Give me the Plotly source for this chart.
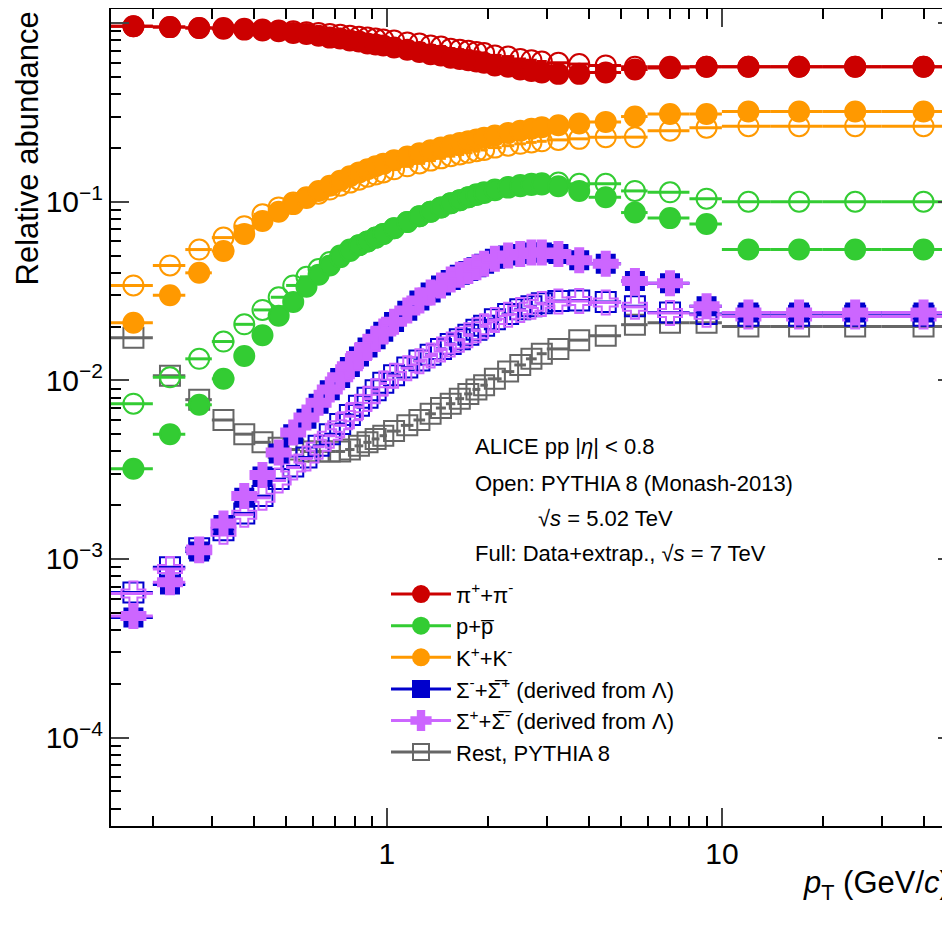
import numpy as np
import plotly.graph_objects as go

# pT bin centres and half widths (GeV/c)
pt = [0.175, 0.225, 0.275, 0.325, 0.375, 0.425, 0.475, 0.525, 0.575, 0.625, 0.675, 0.725,
      0.775, 0.825, 0.875, 0.925, 0.975, 1.05, 1.15, 1.25, 1.35, 1.45, 1.55, 1.65, 1.75,
      1.85, 1.95, 2.1, 2.3, 2.5, 2.7, 2.9, 3.25, 3.75, 4.5, 5.5, 7.0, 9.0, 12.0, 17.0, 25.0, 40.0]
pt_lo = [0.025] * 17 + [0.05] * 10 + [0.1] * 5 + [0.25, 0.25, 0.5, 0.5, 1.0, 1.0, 2.0, 3.0, 5.0, 10.0]
pt_hi = [0.025] * 17 + [0.05] * 10 + [0.1] * 5 + [0.25, 0.25, 0.5, 0.5, 1.0, 1.0, 2.0, 3.0, 5.0, 10.0]

pion_data = [0.96, 0.95, 0.94, 0.93, 0.92, 0.91, 0.90, 0.88, 0.87, 0.85, 0.83, 0.82, 0.80, 0.79,
             0.77, 0.76, 0.75, 0.73, 0.71, 0.69, 0.67, 0.66, 0.64, 0.63, 0.62, 0.61, 0.60, 0.58,
             0.57, 0.55, 0.54, 0.53, 0.52, 0.52, 0.53, 0.55, 0.56, 0.57, 0.57, 0.57, 0.57, 0.57]
pion_mc = [0.96, 0.95, 0.94, 0.94, 0.93, 0.92, 0.91, 0.90, 0.89, 0.88, 0.87, 0.86, 0.85, 0.84,
           0.83, 0.82, 0.81, 0.80, 0.78, 0.77, 0.75, 0.74, 0.72, 0.71, 0.70, 0.69, 0.68, 0.66,
           0.65, 0.63, 0.62, 0.61, 0.60, 0.59, 0.58, 0.57, 0.57, 0.57, 0.57, 0.57, 0.57, 0.57]
kaon_data = [0.021, 0.030, 0.040, 0.053, 0.066, 0.078, 0.088, 0.097, 0.106, 0.115, 0.123, 0.131,
             0.139, 0.146, 0.152, 0.158, 0.163, 0.171, 0.179, 0.187, 0.194, 0.201, 0.207, 0.213,
             0.218, 0.223, 0.228, 0.235, 0.243, 0.250, 0.256, 0.261, 0.268, 0.274, 0.28, 0.30,
             0.31, 0.31, 0.32, 0.32, 0.32, 0.32]
kaon_mc = [0.034, 0.044, 0.054, 0.063, 0.073, 0.085, 0.093, 0.099, 0.105, 0.111, 0.117, 0.123,
           0.128, 0.133, 0.138, 0.142, 0.146, 0.152, 0.158, 0.164, 0.170, 0.175, 0.180, 0.184,
           0.188, 0.192, 0.195, 0.201, 0.206, 0.211, 0.215, 0.218, 0.222, 0.225, 0.23, 0.23,
           0.25, 0.26, 0.265, 0.265, 0.265, 0.265]
proton_data = [0.0032, 0.0050, 0.0073, 0.0102, 0.0137, 0.0179, 0.023, 0.0275, 0.0334, 0.039,
               0.044, 0.049, 0.053, 0.057, 0.060, 0.063, 0.066, 0.071, 0.077, 0.083, 0.088,
               0.093, 0.098, 0.102, 0.106, 0.109, 0.112, 0.116, 0.120, 0.122, 0.124, 0.125,
               0.122, 0.115, 0.106, 0.087, 0.081, 0.075, 0.054, 0.054, 0.054, 0.054]
proton_mc = [0.0074, 0.0104, 0.0132, 0.0165, 0.0206, 0.0248, 0.0292, 0.034, 0.038, 0.042, 0.046,
             0.050, 0.054, 0.057, 0.060, 0.063, 0.066, 0.071, 0.077, 0.083, 0.088, 0.093, 0.098,
             0.102, 0.106, 0.110, 0.113, 0.117, 0.121, 0.124, 0.126, 0.127, 0.128, 0.126, 0.126,
             0.115, 0.113, 0.104, 0.100, 0.100, 0.100, 0.100]
sigm_data = [4.7e-4, 7.2e-4, 1.1e-3, 1.55e-3, 2.2e-3, 2.9e-3, 3.9e-3, 5.0e-3, 6.1e-3, 7.4e-3,
             8.8e-3, 0.0103, 0.0119, 0.0136, 0.0153, 0.0170, 0.0187, 0.0212, 0.0245, 0.028,
             0.031, 0.034, 0.0365, 0.039, 0.041, 0.043, 0.045, 0.048, 0.050, 0.051, 0.052,
             0.052, 0.051, 0.047, 0.045, 0.036, 0.035, 0.026, 0.024, 0.024, 0.024, 0.024]
sigp_data = [4.8e-4, 7.4e-4, 1.12e-3, 1.58e-3, 2.25e-3, 2.95e-3, 3.95e-3, 5.1e-3, 6.2e-3, 7.5e-3,
             8.9e-3, 0.0104, 0.0120, 0.0137, 0.0154, 0.0171, 0.0188, 0.0213, 0.0246, 0.028,
             0.031, 0.034, 0.0367, 0.039, 0.041, 0.043, 0.045, 0.048, 0.050, 0.051, 0.052,
             0.052, 0.051, 0.047, 0.045, 0.036, 0.035, 0.026, 0.024, 0.024, 0.024, 0.024]
sigm_mc = [6.5e-4, 9.0e-4, 1.15e-3, 1.45e-3, 1.8e-3, 2.25e-3, 2.8e-3, 3.3e-3, 3.7e-3, 4.3e-3,
           5.0e-3, 5.7e-3, 6.4e-3, 7.2e-3, 8.0e-3, 8.8e-3, 9.7e-3, 0.0107, 0.0118, 0.0129,
           0.0139, 0.0150, 0.016, 0.017, 0.018, 0.0192, 0.0202, 0.022, 0.0235, 0.025, 0.026,
           0.027, 0.0278, 0.028, 0.0275, 0.026, 0.024, 0.0235, 0.023, 0.023, 0.023, 0.023]
sigp_mc = [6.4e-4, 8.8e-4, 1.13e-3, 1.42e-3, 1.77e-3, 2.2e-3, 2.75e-3, 3.25e-3, 3.65e-3, 4.25e-3,
           4.9e-3, 5.6e-3, 6.3e-3, 7.1e-3, 7.9e-3, 8.7e-3, 9.6e-3, 0.0106, 0.0117, 0.0128,
           0.0138, 0.0149, 0.0159, 0.0169, 0.0179, 0.0191, 0.0201, 0.0218, 0.0233, 0.0248,
           0.0258, 0.0268, 0.0276, 0.0278, 0.0273, 0.0258, 0.0238, 0.0233, 0.0228, 0.0228,
           0.0228, 0.0228]
rest_mc = [0.0173, 0.0106, 0.0078, 0.0060, 0.0050, 0.0045, 0.0042, 0.0041, 0.0040, 0.0040,
           0.0040, 0.0040, 0.0041, 0.0043, 0.0045, 0.0047, 0.0049, 0.0052, 0.0056, 0.0060,
           0.0065, 0.0070, 0.0074, 0.0079, 0.0084, 0.0089, 0.0094, 0.0102, 0.0112, 0.0122,
           0.0132, 0.0141, 0.0150, 0.0168, 0.0178, 0.0205, 0.021, 0.021, 0.020, 0.020, 0.020, 0.020]

red, green, orange = "#cc0000", "#33cc33", "#ff9900"
blue, violet, grey = "#0000cc", "#cc66ff", "#666666"

fig = go.Figure()


def add(y, color, symbol, size=20, lw=2):
    fig.add_trace(go.Scatter(
        x=pt, y=y, mode="markers", showlegend=False,
        marker=dict(color=color, symbol=symbol, size=size, line=dict(color=color, width=lw)),
        error_x=dict(type="data", symmetric=False, array=pt_hi, arrayminus=pt_lo,
                     color=color, thickness=3, width=0)))


add(rest_mc, grey, "square-open")
add(sigm_mc, blue, "square-open")
add(sigp_mc, violet, "cross-open")
add(pion_mc, red, "circle-open")
add(proton_mc, green, "circle-open")
add(kaon_mc, orange, "circle-open")
add(sigm_data, blue, "square", 18)
add(sigp_data, violet, "cross", 20)
add(pion_data, red, "circle")
add(proton_data, green, "circle")
add(kaon_data, orange, "circle")

legend_items = [
    ("π<sup>+</sup>+π<sup>-</sup>", red, "circle"),
    ("p+p̅", green, "circle"),
    ("K<sup>+</sup>+K<sup>-</sup>", orange, "circle"),
    ("Σ<sup>-</sup>+Σ̅<sup>+</sup> (derived from Λ)", blue, "square"),
    ("Σ<sup>+</sup>+Σ̅<sup>-</sup> (derived from Λ)", violet, "cross"),
    ("Rest, PYTHIA 8", grey, "square-open"),
]
for name, color, sym in legend_items:
    fig.add_trace(go.Scatter(
        x=[None], y=[None], mode="lines+markers", name=name,
        line=dict(color=color, width=3),
        marker=dict(color=color, symbol=sym, size=22, line=dict(color=color, width=2))))

minor_x = [v * 10.0 ** k for k in (-1, 0, 1) for v in range(2, 10)]
minor_y = [v * 10.0 ** k for k in (-5, -4, -3, -2, -1) for v in range(2, 10)]

fig.update_xaxes(
    type="log", range=[np.log10(0.15), np.log10(50)], automargin=False,
    tickvals=[1, 10], ticktext=["1", "10"], ticks="inside", ticklen=18, tickwidth=2,
    minor=dict(tickvals=minor_x, ticks="inside", ticklen=10, tickwidth=2, tickcolor="black"),
    showline=True, linecolor="black", linewidth=2, mirror="ticks", showgrid=False,
    tickfont=dict(size=30, color="black"), zeroline=False)
fig.update_yaxes(
    type="log", range=[np.log10(3.2e-5), np.log10(1.2)], automargin=False,
    tickvals=[1e-4, 1e-3, 1e-2, 1e-1, 1],
    ticktext=["10<sup>−4</sup>", "10<sup>−3</sup>", "10<sup>−2</sup>", "10<sup>−1</sup>", "1"],
    ticks="inside", ticklen=18, tickwidth=2,
    minor=dict(tickvals=minor_y, ticks="inside", ticklen=10, tickwidth=2, tickcolor="black"),
    showline=True, linecolor="black", linewidth=2, mirror="ticks", showgrid=False,
    tickfont=dict(size=30, color="black"), zeroline=False)

texts = [
    ("ALICE pp |<i>η</i>| < 0.8", 465, 438),
    ("Open: PYTHIA 8 (Monash-2013)", 465, 475),
    ("√<i>s</i> = 5.02 TeV", 528, 510),
    ("Full: Data+extrap., √<i>s</i> = 7 TeV", 465, 545),
]
for t, px_, py_ in texts:
    fig.add_annotation(text=t, xref="paper", yref="paper",
                       x=(px_ - 103) / 845, y=1 - py_ / 818, xanchor="left", yanchor="middle",
                       showarrow=False, font=dict(size=22, color="black"))

fig.add_annotation(text="<i>p</i><sub>T</sub> (GeV/<i>c</i>)", xref="paper", yref="paper",
                   x=0.995, y=-0.045, xanchor="right", yanchor="top", showarrow=False,
                   font=dict(size=31, color="black"))
fig.add_annotation(text="Relative abundance", xref="paper", yref="paper", textangle=-90,
                   x=-0.122, y=1.0, xanchor="left", yanchor="top", showarrow=False,
                   font=dict(size=31, color="black"))

fig.update_layout(
    width=950, height=935, plot_bgcolor="white", paper_bgcolor="white",
    margin=dict(l=103, r=2, t=1, b=117),
    font=dict(family="Liberation Sans, Arial, sans-serif", color="black"),
    legend=dict(x=(378 - 103) / 845, y=1 - 565 / 818, xanchor="left", yanchor="top",
                font=dict(size=22), bgcolor="rgba(0,0,0,0)", itemwidth=60,
                tracegroupgap=0),
)

fig.write_html("out.html")
